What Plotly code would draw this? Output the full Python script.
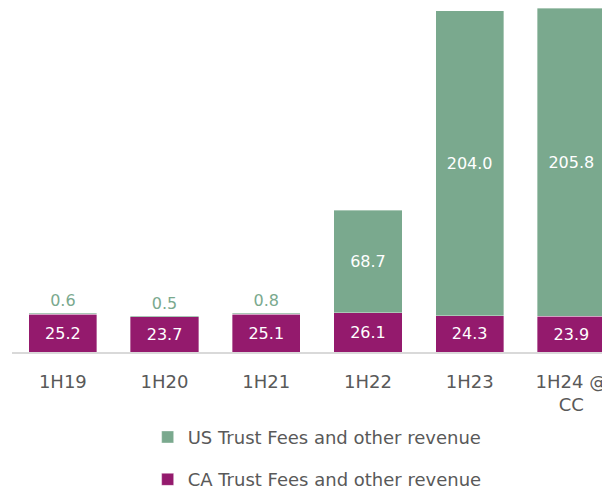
import plotly.graph_objects as go

# data
periods = ["1H19", "1H20", "1H21", "1H22", "1H23", "1H24 @<br>CC"]
ca_fees = [25.2, 23.7, 25.1, 26.1, 24.3, 23.9]
us_fees = [0.6, 0.5, 0.8, 68.7, 204.0, 205.8]

green = "#7aa98e"
purple = "#941a6d"
grey = "#595959"

fig = go.Figure()

fig.add_trace(go.Bar(
    x=periods, y=ca_fees,
    name="CA Trust Fees and other revenue",
    marker=dict(color=purple, line=dict(color="rgba(255,255,255,0.6)", width=0.6)),
    text=[f"{v:.1f}" for v in ca_fees],
    textposition="inside",
    insidetextanchor="middle",
    insidetextfont=dict(color="white", size=16),
    cliponaxis=False,
    legendrank=2, legendgroup="ca",
    hoverinfo="skip",
))

fig.add_trace(go.Bar(
    x=periods, y=us_fees,
    name="US Trust Fees and other revenue",
    marker=dict(color=green, line=dict(color="rgba(255,255,255,0.6)", width=0.6)),
    text=[f"{v:.1f}" for v in us_fees],
    textposition=["outside" if v < 5 else "inside" for v in us_fees],
    insidetextanchor="middle",
    insidetextfont=dict(color="white", size=16),
    outsidetextfont=dict(color=green, size=16),
    cliponaxis=False,
    legendrank=1, legendgroup="us",
    hoverinfo="skip",
))

fig.update_xaxes(
    range=[-0.5, 5.38],
    automargin=False,
    showline=True, linecolor="#d9d9d9", linewidth=2,
    ticks="", showgrid=False,
    ticklabelstandoff=12,
    tickfont=dict(size=18, color=grey),
)
fig.update_yaxes(
    range=[0, 230],
    automargin=False,
    visible=False, showgrid=False,
)

# the page body adds an 8px offset, so the figure is slightly smaller
fig.update_layout(
    width=602, height=481,
    barmode="stack",
    bargap=0.33,
    font=dict(family="DejaVu Sans", color=grey),
    margin=dict(l=4, r=0, t=0, b=137, autoexpand=False),
    plot_bgcolor="white",
    paper_bgcolor="white",
    showlegend=True,
    legend=dict(
        orientation="v",
        xref="container", yref="container",
        x=0.232, xanchor="left",
        y=0.146, yanchor="top",
        font=dict(size=18, color=grey),
        tracegroupgap=16,
        itemwidth=30,
    ),
)

fig.write_html("out.html")
